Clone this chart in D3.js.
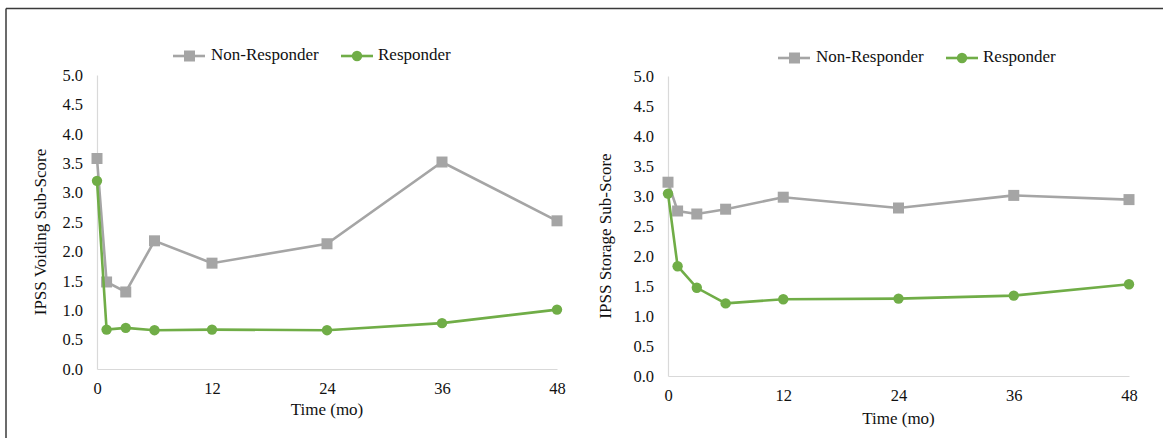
<!DOCTYPE html>
<html><head><meta charset="utf-8">
<script src="https://cdn.jsdelivr.net/npm/d3@7"></script>
<style>body{margin:0;background:#fff}svg{display:block}text{font-family:"Liberation Serif","Times New Roman",Tinos,"DejaVu Serif",serif;fill:#111}</style>
</head><body>
<svg id="c" width="1163" height="438"></svg>
<script>
const months = [0, 1, 3, 6, 12, 24, 36, 48];
const xTicks = [0, 12, 24, 36, 48];
const yTicks = [0, 0.5, 1, 1.5, 2, 2.5, 3, 3.5, 4, 4.5, 5];
const seriesNames = ["Non-Responder", "Responder"];
const voidingNonResponder = [3.58, 1.48, 1.31, 2.18, 1.80, 2.13, 3.52, 2.52];
const voidingResponder = [3.20, 0.67, 0.70, 0.66, 0.67, 0.66, 0.78, 1.01];
const storageNonResponder = [3.23, 2.75, 2.70, 2.78, 2.98, 2.80, 3.01, 2.94];
const storageResponder = [3.04, 1.83, 1.47, 1.21, 1.28, 1.29, 1.34, 1.53];
const yLabels = ["IPSS Voiding Sub-Score", "IPSS Storage Sub-Score"];
const xLabel = "Time (mo)";

const grey = "#a5a5a5", green = "#70ad47";
const FF = '"Liberation Serif","Times New Roman",Tinos,"DejaVu Serif",serif';
const svg = d3.select("#c");

// frame
svg.append("line").attr("x1",6).attr("x2",6).attr("y1",8.5).attr("y2",438).attr("stroke","#3a3a3a").attr("stroke-width",1.5);
svg.append("line").attr("x1",6).attr("x2",1163).attr("y1",8.5).attr("y2",8.5).attr("stroke","#3a3a3a").attr("stroke-width",1.5);

const panels = [
  {x0:97, x1:557, y0:369, y1:75, ylab:yLabels[0], ylabX:42, xlabY:411, legY:56, legX:173,
   data:[voidingNonResponder, voidingResponder]},
  {x0:668, x1:1129, y0:376, y1:76, ylab:yLabels[1], ylabX:607, xlabY:420, legY:58, legX:778,
   data:[storageNonResponder, storageResponder]}
];

panels.forEach(p => {
  const g = svg.append("g");
  const x = d3.scaleLinear().domain([0,48]).range([p.x0,p.x1]);
  const y = d3.scaleLinear().domain([0,5]).range([p.y0,p.y1]);

  const ya = g.append("g").attr("transform",`translate(${p.x0},0)`)
    .call(d3.axisLeft(y).tickValues(yTicks).tickFormat(d3.format(".1f")).tickSize(0).tickPadding(14));
  ya.attr("font-family",FF);
  ya.select(".domain").attr("stroke","#d9d9d9").attr("stroke-width",1.2);
  ya.selectAll("text").style("font-size","16.5px").attr("fill","#111").style("font-family",FF);

  const xa = g.append("g").attr("transform",`translate(0,${p.y0})`)
    .call(d3.axisBottom(x).tickValues(xTicks).tickSize(0).tickPadding(13));
  xa.attr("font-family",FF);
  xa.select(".domain").attr("stroke","#d9d9d9").attr("stroke-width",1.2);
  xa.selectAll("text").style("font-size","16.5px").attr("fill","#111").style("font-family",FF);

  g.append("text").attr("transform",`translate(${p.ylabX},${(p.y0+p.y1)/2+10}) rotate(-90)`)
    .attr("text-anchor","middle").attr("dominant-baseline","middle").style("font-size","17px").text(p.ylab);
  g.append("text").attr("x",(p.x0+p.x1)/2).attr("y",p.xlabY).attr("text-anchor","middle")
    .attr("dominant-baseline","middle").style("font-size","17px").text(xLabel);

  const line = d3.line().x((d,i)=>x(months[i])).y(d=>y(d));
  // non-responder
  g.append("path").datum(p.data[0]).attr("d",line).attr("fill","none").attr("stroke",grey).attr("stroke-width",2.6);
  g.selectAll(".sq").data(p.data[0]).enter().append("rect")
    .attr("x",(d,i)=>x(months[i])-5.5).attr("y",d=>y(d)-5.5).attr("width",11).attr("height",11).attr("fill",grey);
  // responder
  g.append("path").datum(p.data[1]).attr("d",line).attr("fill","none").attr("stroke",green).attr("stroke-width",2.6);
  g.selectAll(".ci").data(p.data[1]).enter().append("circle")
    .attr("cx",(d,i)=>x(months[i])).attr("cy",d=>y(d)).attr("r",5.2).attr("fill",green);

  // legend
  const L = g.append("g").attr("transform",`translate(${p.legX},${p.legY})`);
  L.append("line").attr("x1",0).attr("x2",32).attr("stroke",grey).attr("stroke-width",2.6);
  L.append("rect").attr("x",11).attr("y",-5.5).attr("width",11).attr("height",11).attr("fill",grey);
  L.append("text").attr("x",38).attr("dominant-baseline","middle").style("font-size","17px").text(seriesNames[0]);
  L.append("line").attr("x1",168).attr("x2",200).attr("stroke",green).attr("stroke-width",2.6);
  L.append("circle").attr("cx",184).attr("cy",0).attr("r",5.2).attr("fill",green);
  L.append("text").attr("x",205).attr("dominant-baseline","middle").style("font-size","17px").text(seriesNames[1]);
});
</script>
</body></html>
